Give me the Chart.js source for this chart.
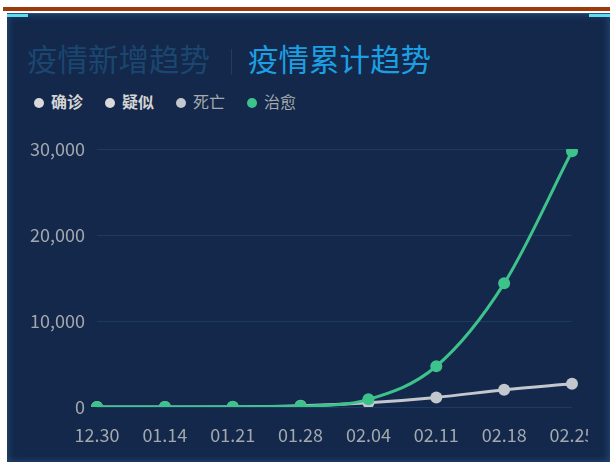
<!DOCTYPE html>
<html>
<head>
<meta charset="utf-8">
<script src="https://cdn.jsdelivr.net/npm/chart.js@4"></script>
<style>
    body { margin: 0; background: #fff; width: 610px; height: 462px; overflow: hidden; position: relative; font-family: "Microsoft YaHei", "Noto Sans CJK SC", sans-serif; }
    .topline { position: absolute; left: 3px; top: 7px; width: 607px; height: 4px; background: #9c3a0c; }
    .panel { position: absolute; left: 7px; top: 13px; width: 603px; height: 449px; background: #13284a; border-top: 1px solid #27507a; box-shadow: inset 0 0 6px 2px rgba(45, 95, 145, 0.55); }
    .corner { position: absolute; top: 14px; height: 3px; width: 21px; background: #5fdcf2; }
    .title { position: absolute; left: 27px; top: 38px; font-size: 30.5px; line-height: 40px; white-space: nowrap; }
    .title .off { color: #1b4670; }
    .title .sep { display: inline-block; width: 1px; height: 26px; background: #1d3f63; margin: 0 16px 0 21px; vertical-align: -4px; }
    .title .on { color: #1c9fe2; }
    #legend { position: absolute; left: 34px; top: 91px; font-size: 16px; line-height: 20px; white-space: nowrap; }
    #legend span.item { display: inline-block; width: 71px; }
    #legend span.dot { display: inline-block; width: 10px; height: 10px; border-radius: 50%; margin-right: 7px; vertical-align: 0px; }
    .wrap { position: absolute; left: 0; top: 0; width: 588px; height: 462px; overflow: hidden; }
</style>
</head>
<body>
<div class="topline"></div>
<div class="panel"></div>
<div class="corner" style="left:7px"></div>
<div class="corner" style="left:589px"></div>
<div class="title"><span class="off">疫情新增趋势</span><span class="sep"></span><span class="on">疫情累计趋势</span></div>
<div id="legend"></div>
<div class="wrap"><canvas id="myChart" width="610" height="462"></canvas></div>
<script>
const dates = ["12.30", "01.14", "01.21", "01.28", "02.04", "02.11", "02.18", "02.25"];
const seriesNames = ["确诊", "疑似", "死亡", "治愈"];
const confirmed = [27, 41, 440, 5974, 24324, 44653, 74185, 78064];
const suspected = [0, 0, 37, 9239, 23260, 16067, 5248, 2824];
const deaths = [0, 1, 9, 132, 492, 1113, 2004, 2715];
const cured = [0, 7, 25, 103, 892, 4740, 14376, 29745];
const hiddenSeries = [true, true, false, false];
const lineColors = ["#d9d9d9", "#d9d9d9", "#c3c7ce", "#3ec28c"];
const legendText = ["#d4d4d4", "#d4d4d4", "#a6a9ad", "#a6a9ad"];
const yTicks = [0, 10000, 20000, 30000];

function buildLegend() {
    let html = "";
    seriesNames.forEach(function (name, i) {
        html += '<span class="item" style="color:' + legendText[i] + (i < 2 ? ';font-weight:bold' : '') + '">' +
            '<span class="dot" style="background:' + lineColors[i] + '"></span>' + name + '</span>';
    });
    document.getElementById("legend").innerHTML = html;
}

function createChart() {
    const allData = [confirmed, suspected, deaths, cured];
    const datasets = seriesNames.map(function (name, i) {
        return {
            label: name,
            data: allData[i],
            hidden: hiddenSeries[i],
            borderColor: lineColors[i],
            backgroundColor: lineColors[i],
            pointBackgroundColor: lineColors[i],
            pointBorderWidth: 0,
            pointRadius: 6,
            borderWidth: 3,
            cubicInterpolationMode: "monotone",
            order: 10 - i
        };
    });

    new Chart("myChart", {
        type: "line",
        data: { labels: dates, datasets: datasets },
        options: {
            responsive: false,
            animation: false,
            devicePixelRatio: 1,
            layout: { padding: { left: 0, right: 38, top: 149, bottom: 15 } },
            plugins: { legend: { display: false }, tooltip: { enabled: false } },
            scales: {
                x: {
                    offset: false,
                    grid: { display: false },
                    border: { display: false },
                    ticks: { color: "#a3a8ae", font: { size: 18, family: "'Microsoft YaHei', 'Noto Sans CJK SC'" }, padding: 9, maxRotation: 0, autoSkip: false },
                    afterFit: function (scale) { scale.height = 40; }
                },
                y: {
                    min: 0,
                    max: 30000,
                    afterBuildTicks: function (scale) { scale.ticks = yTicks.map(function (v) { return { value: v }; }); },
                    grid: { color: "#1b3b60", lineWidth: 1, drawTicks: false },
                    border: { display: false },
                    ticks: {
                        color: "#a3a8ae",
                        padding: 12,
                        font: { size: 18, family: "'Microsoft YaHei', 'Noto Sans CJK SC'" },
                        callback: function (v) { return v.toLocaleString("en-US"); }
                    },
                    afterFit: function (scale) { scale.width = 97; }
                }
            }
        }
    });
}

buildLegend();
createChart();
</script>
</body>
</html>
